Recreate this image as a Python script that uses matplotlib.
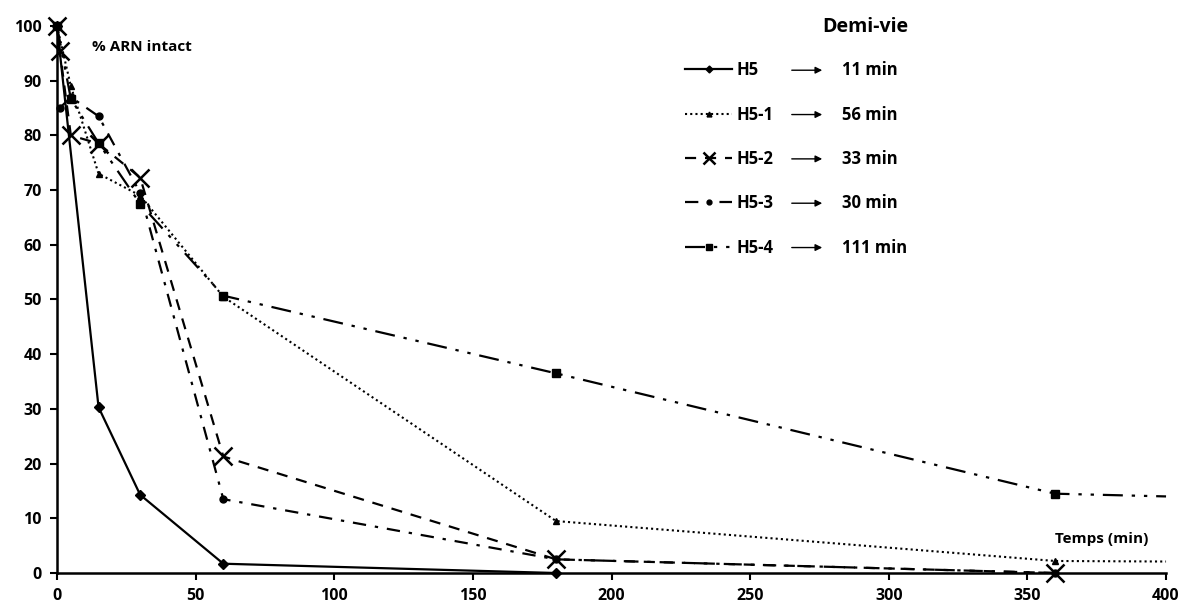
import matplotlib
matplotlib.use("Agg")
import matplotlib.pyplot as plt

plt.rcParams['font.family'] = ['Open Sans', 'DejaVu Sans']
plt.rcParams['font.weight'] = 'bold'

# time points (min) and % intact RNA
t_h5 = [0, 15, 30, 60, 180]
h5 = [100, 30.3, 14.3, 1.7, 0]

t_h51 = [0, 5, 15, 30, 60, 180, 360, 400]
h51 = [100, 89, 73, 69, 50.5, 9.5, 2.2, 2.1]

t_h52 = [0, 1, 5, 15, 30, 60, 180, 360]
h52 = [100, 95.5, 80, 78.5, 72.3, 21.3, 2.5, 0]

t_h53 = [1, 5, 15, 30, 60, 180, 360]
h53 = [85, 87, 83.5, 69.5, 13.5, 2.5, 0]

t_h54 = [0, 5, 15, 30, 60, 180, 360, 400]
h54 = [100, 86.7, 78.6, 67.5, 50.7, 36.5, 14.5, 14.0]

labels = ["H5", "H5-1", "H5-2", "H5-3", "H5-4"]
half_lives = ["11 min", "56 min", "33 min", "30 min", "111 min"]

fig = plt.figure(figsize=(11.82, 6.04), dpi=100)
ax = fig.add_axes([0.0482, 0.0513, 0.9383, 0.9057])

ax.plot(t_h5, h5, color='black', lw=1.6, marker='D', ms=5, label=labels[0], clip_on=False)
ax.plot(t_h51, h51, color='black', lw=1.5, ls=(0, (1, 1.5)), marker='^', ms=5,
        markevery=list(range(len(t_h51) - 1)), label=labels[1], clip_on=False)
ax.plot(t_h52, h52, color='black', lw=1.6, ls=(0, (5, 4)), marker='x', ms=13, mew=1.8,
        label=labels[2], clip_on=False)
ax.plot(t_h53, h53, color='black', lw=1.6, ls=(0, (6, 4, 1.5, 4)), marker='o', ms=5,
        label=labels[3], clip_on=False)
ax.plot(t_h54, h54, color='black', lw=1.6, ls=(0, (9, 4, 1.5, 4, 1.5, 4)), marker='s', ms=6,
        markevery=list(range(len(t_h54) - 1)), label=labels[4], clip_on=False)

ax.set_xlim(0, 400)
ax.set_ylim(0, 100)
ax.set_xticks(range(0, 401, 50))
ax.set_yticks(range(0, 101, 10))
for s in ['top', 'right']:
    ax.spines[s].set_visible(False)
for s in ['left', 'bottom']:
    ax.spines[s].set_linewidth(1.8)
ax.tick_params(direction='out', length=5, width=1.5, labelsize=11.5, pad=6)
for lab in ax.get_xticklabels() + ax.get_yticklabels():
    lab.set_fontweight('bold')

ax.text(12.5, 95.5, "% ARN intact", fontsize=11, fontweight='bold')
ax.text(360, 5.5, "Temps (min)", fontsize=11, fontweight='bold')
ax.text(0.690, 0.998, "Demi-vie", transform=ax.transAxes, fontsize=14,
        fontweight='bold', ha='left', va='center')

leg = ax.legend(loc='upper left', bbox_to_anchor=(0.553, 0.963), frameon=False,
                handlelength=2.8, labelspacing=1.58, handletextpad=0.3, markerscale=0.7,
                prop={'weight': 'bold', 'size': 12})

fig.canvas.draw()
inv = fig.transFigure.inverted()
for txt, hl in zip(leg.get_texts(), half_lives):
    bb = txt.get_window_extent()
    yc = inv.transform((0, (bb.y0 + bb.y1) / 2))[1]
    x_arrow0 = inv.transform((789, 0))[0]
    x_arrow1 = inv.transform((825, 0))[0]
    fig.add_artist(matplotlib.patches.FancyArrowPatch(
        (x_arrow0, yc), (x_arrow1, yc), transform=fig.transFigure,
        arrowstyle='-|>', mutation_scale=10, lw=1, color='black'))
    fig.text(inv.transform((842, 0))[0], yc, hl, fontsize=12, fontweight='bold',
             va='center', ha='left')

fig.savefig("out.png", dpi=100)
